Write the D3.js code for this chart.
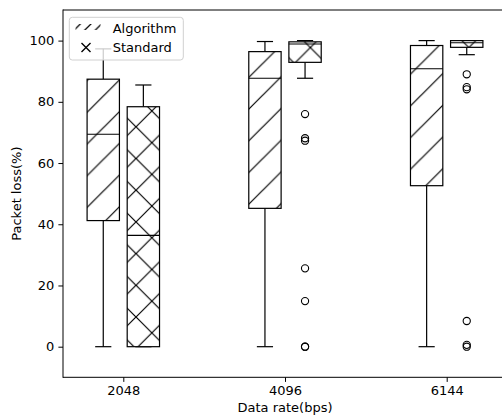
<!DOCTYPE html>
<html>
<head>
<meta charset="utf-8">
<script src="https://cdn.jsdelivr.net/npm/d3@7"></script>
<style>
  html, body { margin: 0; padding: 0; background: #fff; width: 502px; height: 420px; overflow: hidden; }
  #chart { width: 502px; height: 420px; overflow: hidden; }
  svg { display: block; overflow: hidden; }
  text { font-family: "DejaVu Sans", sans-serif; fill: #000; }
</style>
</head>
<body>
<div id="chart"></div>
<script>
// Data rate categories and their positions on the x axis
const categories = ["2048", "4096", "6144"];
const positions = [1, 2, 3];
const seriesNames = ["Algorithm", "Standard"];

// Box statistics for the Algorithm series (packet loss, %)
const algLow = [0, 0, 0];
const algQ1 = [41.2, 45.2, 52.6];
const algMedian = [69.4, 87.7, 90.8];
const algQ3 = [87.4, 96.4, 98.4];
const algHigh = [97.3, 99.7, 100];
const algOutliers = [[], [], []];

// Box statistics for the Standard series (packet loss, %)
const stdLow = [0, 87.7, 95.4];
const stdQ1 = [0, 92.9, 97.8];
const stdMedian = [36.4, 98.9, 99.3];
const stdQ3 = [78.4, 99.6, 100];
const stdHigh = [85.5, 100, 100];
const stdOutliers = [[], [76.0, 68.1, 67.3, 25.6, 14.9, 0, 0], [89.0, 84.8, 84.1, 8.4, 0.6, 0]];

const yTicks = [0, 20, 40, 60, 80, 100];

const W = 502, H = 420;
// the axes box runs past the right edge of the canvas
const plot = { left: 63, right: 507, top: 10, bottom: 377.3 };

const x = d3.scaleLinear().domain([0.627, 3.373]).range([plot.left, plot.right]);
const y = d3.scaleLinear().domain([-10, 110]).range([plot.bottom, plot.top]);

const svg = d3.select("#chart").append("svg")
  .attr("width", W).attr("height", H)
  .attr("viewBox", `0 0 ${W} ${H}`);

// Hatch patterns (drawn in absolute coordinates so all boxes share one phase)
const hatchStep = 31.7, hatchPhase = 9.2;
const defs = svg.append("defs");
function makePattern(id, d, cross) {
  const p = defs.append("pattern")
    .attr("id", id)
    .attr("patternUnits", "userSpaceOnUse")
    .attr("x", hatchPhase).attr("y", 0)
    .attr("width", d).attr("height", d);
  let path = `M0,${d}L${d},0M-1,1L1,-1M${d - 1},${d + 1}L${d + 1},${d - 1}`;
  if (cross) path += `M0,0L${d},${d}M${d - 1},-1L${d + 1},1M-1,${d - 1}L1,${d + 1}`;
  p.append("path").attr("d", path)
    .attr("stroke", "#000").attr("stroke-width", 1.2).attr("fill", "none");
}
makePattern("hatch-slash", hatchStep, false);
makePattern("hatch-cross", hatchStep, true);
makePattern("hatch-slash-dense", hatchStep / 3, false);

const series = [
  { name: seriesNames[0], offset: -0.124, fill: "url(#hatch-slash)",
    low: algLow, q1: algQ1, med: algMedian, q3: algQ3, high: algHigh, out: algOutliers },
  { name: seriesNames[1], offset: 0.124, fill: "url(#hatch-cross)",
    low: stdLow, q1: stdQ1, med: stdMedian, q3: stdQ3, high: stdHigh, out: stdOutliers }
];

const boxW = 0.2;
const lineW = 1.2;
const plotArea = svg.append("g");

series.forEach(s => {
  positions.forEach((p, i) => {
    const cx = x(p + s.offset);
    const x0 = x(p + s.offset - boxW / 2), x1 = x(p + s.offset + boxW / 2);
    const c0 = x(p + s.offset - boxW / 4), c1 = x(p + s.offset + boxW / 4);
    const g = plotArea.append("g");
    // whiskers
    g.append("line").attr("x1", cx).attr("x2", cx)
      .attr("y1", y(s.q1[i])).attr("y2", y(s.low[i]))
      .attr("stroke", "#000").attr("stroke-width", lineW);
    g.append("line").attr("x1", cx).attr("x2", cx)
      .attr("y1", y(s.q3[i])).attr("y2", y(s.high[i]))
      .attr("stroke", "#000").attr("stroke-width", lineW);
    // caps
    [s.low[i], s.high[i]].forEach(v => {
      g.append("line").attr("x1", c0).attr("x2", c1)
        .attr("y1", y(v)).attr("y2", y(v))
        .attr("stroke", "#000").attr("stroke-width", lineW);
    });
    // box
    const bh = Math.max(0, y(s.q1[i]) - y(s.q3[i]));
    g.append("rect")
      .attr("x", x0).attr("y", y(s.q3[i]))
      .attr("width", x1 - x0).attr("height", bh)
      .attr("fill", "#fff");
    g.append("rect")
      .attr("x", x0).attr("y", y(s.q3[i]))
      .attr("width", x1 - x0).attr("height", bh)
      .attr("fill", s.fill).attr("stroke", "#000").attr("stroke-width", lineW);
    // median
    g.append("line").attr("x1", x0).attr("x2", x1)
      .attr("y1", y(s.med[i])).attr("y2", y(s.med[i]))
      .attr("stroke", "#000").attr("stroke-width", lineW);
    // outliers
    g.selectAll("circle.out").data(s.out[i]).enter().append("circle")
      .attr("class", "out")
      .attr("cx", cx).attr("cy", v => y(v)).attr("r", 3.6)
      .attr("fill", "none").attr("stroke", "#000").attr("stroke-width", 1.1);
  });
});

// Spines: top, left and bottom (the right one lies off canvas)
const spines = svg.append("g").attr("stroke", "#000").attr("stroke-width", 1);
spines.append("line").attr("x1", plot.left).attr("x2", W).attr("y1", plot.top).attr("y2", plot.top);
spines.append("line").attr("x1", plot.left).attr("x2", W).attr("y1", plot.bottom).attr("y2", plot.bottom);
spines.append("line").attr("x1", plot.left).attr("x2", plot.left).attr("y1", plot.top - 0.5).attr("y2", plot.bottom + 0.5);

// Axes
const xAxis = d3.axisBottom(x).tickValues(positions)
  .tickFormat((d, i) => categories[i]).tickSize(4.6).tickPadding(4.2);
const yAxis = d3.axisLeft(y).tickValues(yTicks)
  .tickFormat(d3.format("d")).tickSize(4.6).tickPadding(4.2);

const gx = svg.append("g").attr("transform", `translate(0,${plot.bottom})`).call(xAxis);
const gy = svg.append("g").attr("transform", `translate(${plot.left},0)`).call(yAxis);
[gx, gy].forEach(g => {
  g.select(".domain").remove();
  g.selectAll(".tick line").attr("stroke", "#000").attr("stroke-width", 1);
  g.selectAll(".tick text").attr("font-size", 13).attr("font-family", "DejaVu Sans, sans-serif").attr("fill", "#000");
});

// Axis titles
svg.append("text")
  .attr("x", (plot.left + plot.right) / 2).attr("y", 412)
  .attr("text-anchor", "middle").attr("font-size", 13)
  .text("Data rate(bps)");
svg.append("text")
  .attr("transform", `translate(21,${(plot.top + plot.bottom) / 2}) rotate(-90)`)
  .attr("text-anchor", "middle").attr("font-size", 13)
  .text("Packet loss(%)");

// Legend
const legend = svg.append("g");
legend.append("rect")
  .attr("x", 69.3).attr("y", 17.3).attr("width", 114).attr("height", 42.7)
  .attr("rx", 3).attr("ry", 3)
  .attr("fill", "#fff").attr("fill-opacity", 0.8)
  .attr("stroke", "#d0d0d0").attr("stroke-width", 1);
legend.append("rect")
  .attr("x", 75.5).attr("y", 24).attr("width", 25).attr("height", 6)
  .attr("fill", "url(#hatch-slash-dense)");
legend.append("path")
  .attr("d", "M81.5,43L90.5,52M81.5,52L90.5,43")
  .attr("stroke", "#000").attr("stroke-width", 1.4).attr("fill", "none");
legend.append("text").attr("x", 112.7).attr("y", 32.5).attr("font-size", 13).text(seriesNames[0]);
legend.append("text").attr("x", 112.7).attr("y", 51.5).attr("font-size", 13).text(seriesNames[1]);
</script>
</body>
</html>
